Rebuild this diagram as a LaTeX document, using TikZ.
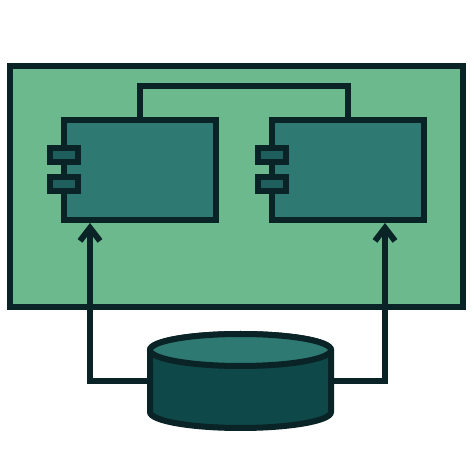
\documentclass[tikz,border=0pt]{standalone}
\usetikzlibrary{arrows.meta}

\definecolor{panelgreen}{RGB}{108,185,142}
\definecolor{compteal}{RGB}{46,122,115}
\definecolor{portteal}{RGB}{30,94,92}
\definecolor{dbteal}{RGB}{14,72,72}
\definecolor{inkdark}{RGB}{10,35,38}

\tikzset{
    ink/.style={draw=inkdark, line width=6pt},
    frame/.style={ink, fill=panelgreen, rectangle, minimum width=453pt, minimum height=241pt, inner sep=0pt},
    component/.style={ink, fill=compteal, rectangle, minimum width=152pt, minimum height=100pt, inner sep=0pt},
    port/.style={ink, fill=portteal, rectangle, minimum width=28pt, minimum height=14pt, inner sep=0pt},
    dbspace/.style={rectangle, minimum width=181pt, minimum height=62pt, inner sep=0pt, outer sep=0pt},
    link/.style={draw=inkdark, line width=6pt},
    dataflow/.style={link, -{Straight Barb[length=13pt,width=20pt]}}
}

\begin{document}
\begin{tikzpicture}[x=1pt, y=1pt]
        \useasboundingbox (0, 0) rectangle (474, 474);

        % Container
        \node[frame] (frame) at (236.5, 287.5) {};

        % Link between components
        \draw[link] (140, 354) |- (348, 388) -- (348, 354);

        % Components
        \node[component] (compA) at (140, 304) {};
        \node[port] (portA1) at (64, 318.5) {};
        \node[port] (portA2) at (64, 289.5) {};

        \node[component] (compB) at (348, 304) {};
        \node[port] (portB1) at (272, 318.5) {};
        \node[port] (portB2) at (272, 289.5) {};

        % Database
        \node[dbspace] (db) at (240.5, 93) {};
        \draw[ink, fill=dbteal] (db.north west) -- (db.south west)
            arc[start angle=180, end angle=360, x radius=90.5, y radius=16]
            -- (db.north east)
            arc[start angle=0, end angle=180, x radius=90.5, y radius=16] -- cycle;
        \draw[ink, fill=compteal] (db.north) ellipse [x radius=90.5, y radius=16];

        % Data flow
        \draw[dataflow] ([xshift=-3pt]db.west) -| ([xshift=-50pt]compA.south);
        \draw[dataflow] ([xshift=3pt]db.east) -| ([xshift=37pt]compB.south);
    \end{tikzpicture}
\end{document}
